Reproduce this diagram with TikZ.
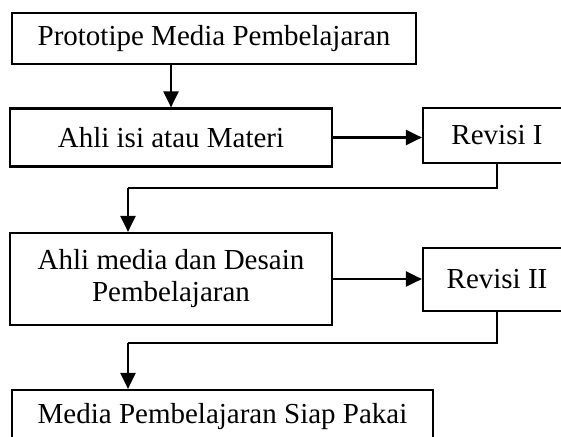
\documentclass[tikz,border=0pt]{standalone}
\usepackage{fontspec}
\setmainfont{Liberation Serif}
\usetikzlibrary{arrows.meta}
\begin{document}
\begin{tikzpicture}[x=1pt,y=-1pt,
  box/.style={draw,line width=2.2pt,inner sep=0pt,align=center,font=\fontsize{29}{32}\selectfont},
  arr/.style={line width=2.4pt,-{Triangle[length=16pt,width=15pt]}},
  thin/.style={line width=1.3pt}]
\useasboundingbox (0,0) rectangle (561,436);
\clip (0,0) rectangle (561,436);
\node[box,minimum width=404pt,minimum height=51pt] (b1) at (214,38.5) {Prototipe Media Pembelajaran};
\node[box,minimum width=322pt,minimum height=58pt] (b2) at (171,137.5) {Ahli isi atau Materi};
\node[box,minimum width=148pt,minimum height=55pt] (r1) at (497,135.5) {Revisi I};
\node[box,minimum width=322pt,minimum height=92pt] (b3) at (171,279) {Ahli media dan Desain\\Pembelajaran};
\node[box,minimum width=148pt,minimum height=63pt] (r2) at (497,279.5) {Revisi II};
\node[box,minimum width=421pt,minimum height=54pt] (b4) at (222.5,417) {Media Pembelajaran Siap Pakai};
\coordinate (c1) at (128,188);
\coordinate (c2) at (128,343);
\draw[arr] (b2.north |- b1.south) -- (b2.north);
\draw[arr] (b2.east) -- (b2.east -| r1.west);
\draw[thin] (r1.south) |- (c1);
\draw[arr] (c1) -- (c1 |- b3.north);
\draw[arr] (b3.east) -- (b3.east -| r2.west);
\draw[thin] (r2.south) |- (c2);
\draw[arr] (c2) -- (c2 |- b4.north);
\end{tikzpicture}
\end{document}
